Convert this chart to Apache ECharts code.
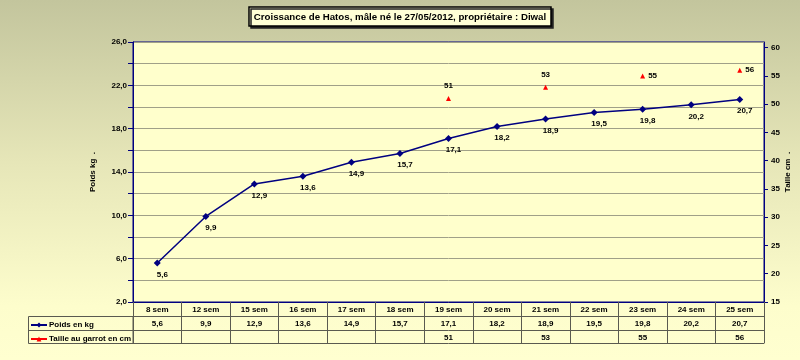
<!DOCTYPE html>
<html>
<head>
<meta charset="utf-8">
<script src="https://cdn.jsdelivr.net/npm/echarts@6/dist/echarts.min.js"></script>
<style>
html,body{margin:0;padding:0;}
#c{width:800px;height:360px;}
</style>
</head>
<body>
<div id="c"></div>
<script>
const categories = ['8 sem','12 sem','15 sem','16 sem','17 sem','18 sem','19 sem','20 sem','21 sem','22 sem','23 sem','24 sem','25 sem'];
const weightKg = [5.6, 9.9, 12.9, 13.6, 14.9, 15.7, 17.1, 18.2, 18.9, 19.5, 19.8, 20.2, 20.7];
const heightCm = [null, null, null, null, null, null, 51, null, 53, null, 55, null, 56];
const leftLabels = [2, 6, 10, 14, 18, 22, 26];
const rightTicks = [15, 20, 25, 30, 35, 40, 45, 50, 55, 60];

const fmt = v => v.toFixed(1).replace('.', ',');
const FONT = "'Liberation Sans', Arial, sans-serif";
const tableLine = '#5a5a50';
const labelStyle = {fontSize: 8, fontWeight: 'bold', color: '#000', fontFamily: FONT};

const heightData = heightCm.map((v, i) => v == null ? null : {
  value: v,
  label: {position: i < 9 ? 'top' : 'right', distance: i < 9 ? 6 : 3}
});

function tableAxis(offset, formatter, tickLen, showLabel) {
  return {
    type: 'category', data: categories, position: 'bottom', offset: offset,
    axisLine: {show: true, onZero: false, lineStyle: {color: tableLine, width: 1}},
    axisTick: {show: tickLen > 0, length: tickLen, alignWithLabel: false, lineStyle: {color: tableLine}},
    axisLabel: Object.assign({show: showLabel, interval: 0, margin: 4, formatter: formatter}, labelStyle),
    splitLine: {show: false}
  };
}

const chart = echarts.init(document.getElementById('c'), null, {renderer: 'canvas'});
chart.setOption({
  animation: false,
  backgroundColor: {
    type: 'linear', x: 0, y: 0, x2: 0, y2: 1,
    colorStops: [
      {offset: 0, color: '#c3c59d'},
      {offset: 0.45, color: '#e6e6b8'},
      {offset: 0.85, color: '#fdfdcc'},
      {offset: 1, color: '#ffffd0'}
    ]
  },
  textStyle: {fontFamily: FONT},
  title: {
    text: 'Croissance de Hatos, mâle né le 27/05/2012, propriétaire : Diwal',
    left: 'center', top: 7,
    padding: [5, 5, 4, 5],
    backgroundColor: '#ffffd6',
    borderColor: '#000', borderWidth: 1.5,
    shadowColor: '#222', shadowOffsetX: 2, shadowOffsetY: 2, shadowBlur: 0,
    textStyle: {fontSize: 9.7, fontWeight: 'bold', color: '#000', fontFamily: FONT}
  },
  legend: {
    orient: 'vertical', left: 30, top: 321, padding: 0,
    itemWidth: 16, itemHeight: 6, itemGap: 6,
    textStyle: {fontSize: 8, fontWeight: 'bold', color: '#000', fontFamily: FONT, padding: [0, 0, 0, -3]},
    data: ['Poids en kg', 'Taille au garrot en cm']
  },
  grid: {
    left: 133, right: 36, top: 42, bottom: 58,
    outerBoundsMode: 'none', containLabel: false,
    show: true, backgroundColor: '#ffffcc', borderColor: '#000080', borderWidth: 1
  },
  xAxis: [
    Object.assign(tableAxis(0, (v, i) => categories[i], 14, true), {
      axisLine: {show: true, onZero: false, lineStyle: {color: '#000080', width: 1}}
    }),
    tableAxis(14, (v, i) => fmt(weightKg[i]), 14, true),
    tableAxis(28, (v, i) => heightCm[i] == null ? '' : String(heightCm[i]), 13, true),
    tableAxis(41, () => '', 0, false)
  ],
  yAxis: [
    {
      type: 'value', min: 2, max: 26, interval: 2, position: 'left',
      name: 'Poids kg  .', nameLocation: 'middle', nameRotate: 90, nameGap: 36, nameMoveOverlap: false,
      nameTextStyle: {fontSize: 8, fontWeight: 'bold', color: '#000', fontFamily: FONT},
      axisLine: {show: true, lineStyle: {color: '#000080', width: 1}},
      axisTick: {show: true, length: 5, lineStyle: {color: '#000080'}},
      axisLabel: Object.assign({
        margin: 6,
        formatter: v => leftLabels.indexOf(v) >= 0 ? fmt(v) : ''
      }, labelStyle),
      splitLine: {show: true, lineStyle: {color: '#a0a088', width: 1}}
    },
    {
      type: 'value', min: 15, max: 61, interval: 5, position: 'right',
      name: 'Taille cm  .', nameLocation: 'middle', nameRotate: 90, nameGap: 20, nameMoveOverlap: false,
      nameTextStyle: {fontSize: 8, fontWeight: 'bold', color: '#000', fontFamily: FONT},
      axisLine: {show: true, lineStyle: {color: '#000080', width: 1}},
      axisTick: {show: true, length: 4, customValues: rightTicks, lineStyle: {color: '#000080'}},
      axisLabel: Object.assign({margin: 7, customValues: rightTicks}, labelStyle),
      splitLine: {show: false}
    }
  ],
  series: [
    {
      name: 'Poids en kg', type: 'line', xAxisIndex: 0, yAxisIndex: 0,
      data: weightKg, color: '#000080',
      symbol: 'diamond', symbolSize: 7,
      lineStyle: {width: 1.5, color: '#000080'},
      itemStyle: {color: '#000080'},
      label: Object.assign({show: true, position: 'bottom', distance: 4, offset: [5, 0],
        formatter: p => fmt(p.value)}, labelStyle)
    },
    {
      name: 'Taille au garrot en cm', type: 'line', xAxisIndex: 0, yAxisIndex: 1,
      data: heightData, color: '#ff0000', connectNulls: false,
      symbol: 'triangle', symbolSize: 5,
      lineStyle: {width: 1.5, color: '#ff0000'},
      itemStyle: {color: '#ff0000'},
      label: Object.assign({show: true, formatter: p => String(p.value)}, labelStyle)
    }
  ],
  graphic: [
    {type: 'rect', shape: {x: 28.5, y: 316.5, width: 104.5, height: 27}, style: {fill: null, stroke: tableLine, lineWidth: 1}, silent: true},
    {type: 'line', shape: {x1: 28.5, y1: 330.5, x2: 133, y2: 330.5}, style: {stroke: tableLine, lineWidth: 1}, silent: true}
  ]
});
</script>
</body>
</html>
